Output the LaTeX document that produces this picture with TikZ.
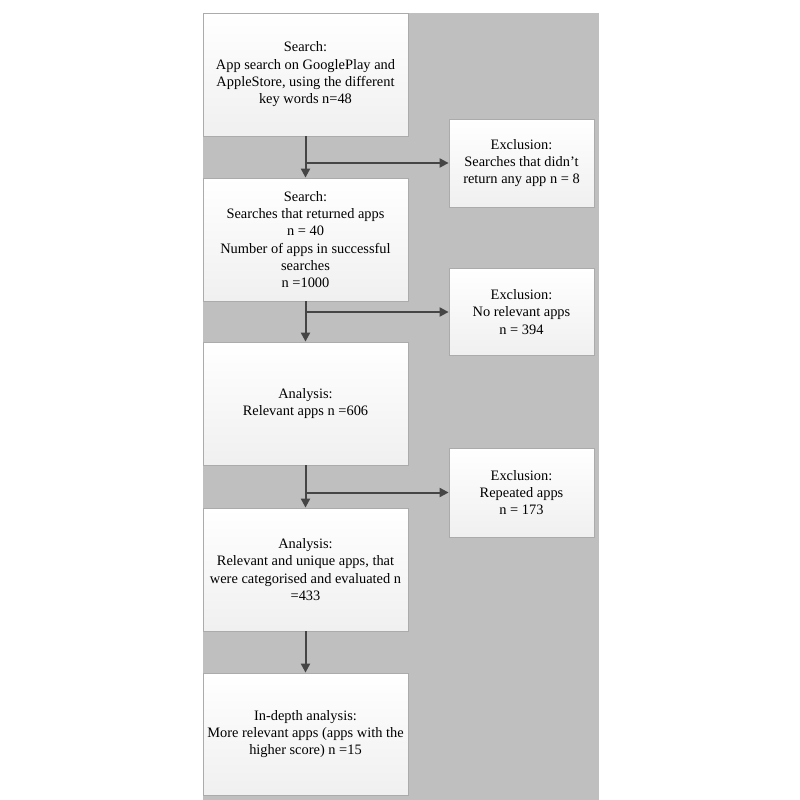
\documentclass[tikz,border=0pt]{standalone}
\usepackage{fontspec}
\setmainfont{Liberation Serif}
\usetikzlibrary{arrows.meta,positioning}
\definecolor{bggray}{HTML}{BFBFBF}
\definecolor{boxline}{HTML}{ABABAB}
\definecolor{arrowgray}{HTML}{454545}
\begin{document}
\begin{tikzpicture}[x=1pt,y=-1pt,
  flowbox/.style={draw=boxline, line width=0.8pt, top color=white, bottom color=gray!12,
    align=center, inner sep=2pt, font=\fontsize{14.4}{17.3}\selectfont, text=black},
  arr/.style={draw=arrowgray, line width=2pt, -{Triangle[length=9pt,width=9pt]}}]
\useasboundingbox (0,0) rectangle (800,800);
\fill[white] (0,0) rectangle (800,800);
\fill[bggray] (203,13) rectangle (599,800);

\node[flowbox, minimum width=205pt, minimum height=123pt] (b1) at (305.5,74.5)
  {Search:\\App search on GooglePlay and\\AppleStore, using the different\\key words n=48};
\node[flowbox, minimum width=205pt, minimum height=123pt] (b2) at (305.5,239.5)
  {Search:\\Searches that returned apps\\n = 40\\Number of apps in successful\\searches\\n =1000};
\node[flowbox, minimum width=205pt, minimum height=123pt] (b3) at (305.5,403.5)
  {Analysis:\\Relevant apps n =606};
\node[flowbox, minimum width=205pt, minimum height=123pt] (b4) at (305.5,569.5)
  {Analysis:\\Relevant and unique apps, that\\were categorised and evaluated n\\=433};
\node[flowbox, minimum width=205pt, minimum height=122pt] (b5) at (305.5,734)
  {In-depth analysis:\\More relevant apps (apps with the\\higher score) n =15};

\node[flowbox, minimum width=145pt, minimum height=88pt] (e1) at (521.5,163)
  {Exclusion:\\Searches that didn’t\\return any app n = 8};
\node[flowbox, minimum width=145pt, minimum height=87pt] (e2) at (521.5,312)
  {Exclusion:\\No relevant apps\\n = 394};
\node[flowbox, minimum width=145pt, minimum height=89pt] (e3) at (521.5,492.5)
  {Exclusion:\\Repeated apps\\n = 173};

\draw[arr] (b1.south) -- (b2.north);
\draw[arr] (b1.south |- e1.west) -- (e1.west);
\draw[arr] (b2.south) -- (b3.north);
\draw[arr] (b2.south |- e2.west) -- (e2.west);
\draw[arr] (b3.south) -- (b4.north);
\draw[arr] (b3.south |- e3.west) -- (e3.west);
\draw[arr] (b4.south) -- (b5.north);
\end{tikzpicture}
\end{document}
